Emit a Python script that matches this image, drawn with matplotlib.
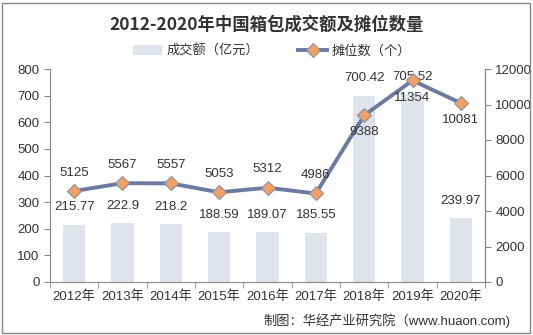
import matplotlib
matplotlib.use("Agg")
import matplotlib.pyplot as plt
from matplotlib.patches import Rectangle

plt.rcParams['font.family'] = ['Liberation Sans', 'Noto Sans CJK SC', 'DejaVu Sans']

years = ['2012年', '2013年', '2014年', '2015年', '2016年', '2017年', '2018年', '2019年', '2020年']
turnover = [215.77, 222.9, 218.2, 188.59, 189.07, 185.55, 700.42, 705.52, 239.97]
stalls = [5125, 5567, 5557, 5053, 5312, 4986, 9388, 11354, 10081]
stall_label_below = [False, False, False, False, False, False, True, True, True]

title = '2012-2020年中国箱包成交额及摊位数量'
bar_name = '成交额（亿元）'
line_name = '摊位数（个）'
source = '制图：华经产业研究院（www.huaon.com)'

W, H = 533, 335
fig = plt.figure(figsize=(W / 100, H / 100), dpi=100)
ax = fig.add_axes([50 / W, 1 - 282 / H, 435 / W, (282 - 69) / H])
ax2 = ax.twinx()

bar_color = '#dfe3ec'
line_color = '#6c7aa2'
marker_color = '#f0a161'
txt = '#333333'

x = range(len(years))
bars = ax.bar(x, turnover, width=0.46, color=bar_color, zorder=1)
ax.set_xlim(-0.5, len(years) - 0.5)
ax.set_ylim(0, 800)
ax.set_yticks(range(0, 801, 100))
ax2.set_ylim(0, 12000)
ax2.set_yticks(range(0, 12001, 2000))

ln, = ax2.plot(list(x), stalls, color=line_color, lw=2.8, marker='D', markersize=7,
               markerfacecolor=marker_color, markeredgecolor='#8a8fa8', markeredgewidth=0.8, zorder=3)

for i, v in enumerate(turnover):
    ax.annotate(f'{v:g}', (i, v), xytext=(0, 8), textcoords='offset points',
                ha='center', va='bottom', fontsize=9.5, color=txt)
for i, v in enumerate(stalls):
    if stall_label_below[i]:
        ax2.annotate(f'{v}', (i, v), xytext=(0, -8), textcoords='offset points',
                     ha='center', va='top', fontsize=9.5, color=txt)
    else:
        ax2.annotate(f'{v}', (i, v), xytext=(0, 9), textcoords='offset points',
                     ha='center', va='bottom', fontsize=9.5, color=txt)

ax.set_xticks(list(x))
ax.set_xticklabels(years)
for a in (ax, ax2):
    a.spines['top'].set_visible(False)
    a.tick_params(labelsize=9.5, colors=txt, length=4, color='#888888')
ax.spines['left'].set_color('#888888')
ax.spines['bottom'].set_color('#888888')
ax2.spines['right'].set_color('#888888')
ax2.spines['left'].set_visible(False)
ax2.spines['bottom'].set_visible(False)
ax.set_xticks([i + 0.5 for i in range(-1, len(years))], minor=True)
ax.tick_params(axis='x', which='major', length=0, pad=6)
ax.tick_params(axis='x', which='minor', length=4, color='#888888')

fig.text(0.5, 1 - 25 / H, title, ha='center', va='center', fontsize=12.5,
         fontweight='bold', color=txt, family=['Noto Sans CJK SC'])
fig.legend([bars, ln], [bar_name, line_name], loc='center', bbox_to_anchor=(272 / W, 1 - 51 / H),
           ncol=2, frameon=False, fontsize=9.5, handlelength=2.2, columnspacing=3,
           handletextpad=0.3, labelcolor=txt)
fig.text(510 / W, 1 - 321 / H, source, ha='right', va='center', fontsize=9.5, color=txt)

fig.add_artist(Rectangle((2 / W, 2 / H), 528 / W, 330 / H, transform=fig.transFigure,
                         fill=False, edgecolor='#888888', lw=1))
fig.savefig('out.png', dpi=100)
